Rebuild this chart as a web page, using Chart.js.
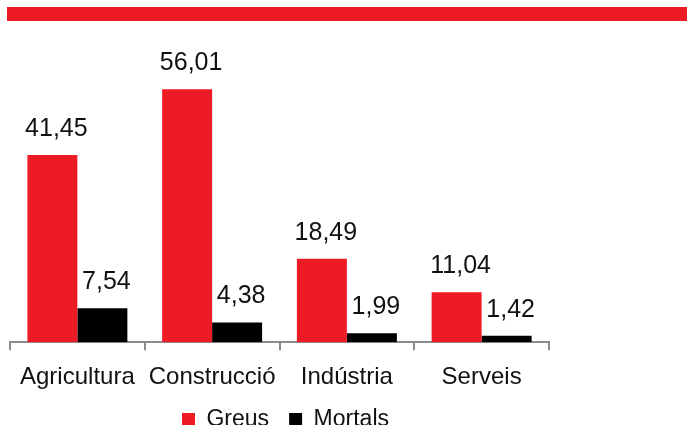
<!DOCTYPE html>
<html lang="ca">
  <head>
    <meta charset="UTF-8" />
    <title>Accidents greus i mortals per sector</title>
    <script src="https://cdn.jsdelivr.net/npm/chart.js@4/dist/chart.umd.min.js"></script>
    <style>
      html, body { margin: 0; padding: 0; background: #fff; }
      #wrap { position: relative; width: 687px; height: 425px; }
      #franja { position: absolute; left: 7px; top: 7px; width: 680px; height: 14px; background: #ed1c24; }
      #chart { position: absolute; left: 0; top: 0; }
    </style>
  </head>
  <body>
    <div id="wrap">
      <canvas id="chart" width="687" height="425"></canvas>
      <div id="franja"></div>
    </div>
    <script>
      // sectors
      const sectors = ["Agricultura", "Construcció", "Indústria", "Serveis"];
      // índexs d'incidència
      const greus = [41.45, 56.01, 18.49, 11.04];
      const mortals = [7.54, 4.38, 1.99, 1.42];

      const vermell = "#ed1c24";
      const negre = "#000000";
      const gris = "#8c8c8c";
      const font = "'Liberation Sans', Arial, sans-serif";

      // etiquetes de valor damunt de cada barra, amb coma decimal
      const etiquetes = {
        id: "etiquetes",
        afterDatasetsDraw(chart) {
          const ctx = chart.ctx;
          ctx.save();
          ctx.font = "25px " + font;
          ctx.fillStyle = "#111";
          ctx.textAlign = "center";
          ctx.textBaseline = "alphabetic";
          chart.data.datasets.forEach((ds, i) => {
            const meta = chart.getDatasetMeta(i);
            meta.data.forEach((bar, j) => {
              const txt = ds.data[j].toFixed(2).replace(".", ",");
              ctx.fillText(txt, bar.x + 4, bar.y - 19);
            });
          });
          ctx.restore();
        }
      };

      // la llegenda: separacio horitzontal entre elements sense tant d'espai vertical
      const ajustLlegenda = {
        id: "ajustLlegenda",
        beforeLayout(chart) {
          const legend = chart.legend;
          if (!legend || legend._ajustat) return;
          const fit = legend.fit;
          legend.fit = function () {
            fit.call(this);
            this.height -= this.options.labels.padding;
          };
          legend._ajustat = true;
        },
        afterLayout(chart) {
          const legend = chart.legend;
          legend.top -= legend.options.labels.padding;
          legend.left += 6;
          legend.right += 6;
        }
      };

      const ctx = document.getElementById("chart").getContext("2d");
      const myChart = new Chart(ctx, {
        type: "bar",
        data: {
          labels: sectors,
          datasets: [
            {
              label: "Greus",
              data: greus,
              backgroundColor: vermell,
              borderWidth: 0
            },
            {
              label: "Mortals",
              data: mortals,
              backgroundColor: negre,
              borderWidth: 0
            }
          ]
        },
        options: {
          responsive: false,
          animation: false,
          layout: {
            padding: { left: 10, right: 138, top: 26, bottom: -16 }
          },
          datasets: {
            bar: { categoryPercentage: 0.742, barPercentage: 1.0 }
          },
          scales: {
            x: {
              afterFit: (scale) => { scale.height += 3; },
              grid: {
                drawOnChartArea: false,
                drawTicks: true,
                tickLength: 8,
                color: gris,
                lineWidth: 2
              },
              border: { color: gris, width: 2 },
              ticks: {
                color: "#111",
                padding: 13,
                font: { family: font, size: 24 }
              }
            },
            y: {
              display: false,
              min: 0,
              max: 70
            }
          },
          plugins: {
            legend: {
              position: "bottom",
              labels: {
                boxWidth: 13,
                boxHeight: 13,
                padding: 20,
                color: "#111",
                font: { family: font, size: 23 }
              }
            },
            tooltip: { enabled: false }
          }
        },
        plugins: [etiquetes, ajustLlegenda]
      });
    </script>
  </body>
</html>
